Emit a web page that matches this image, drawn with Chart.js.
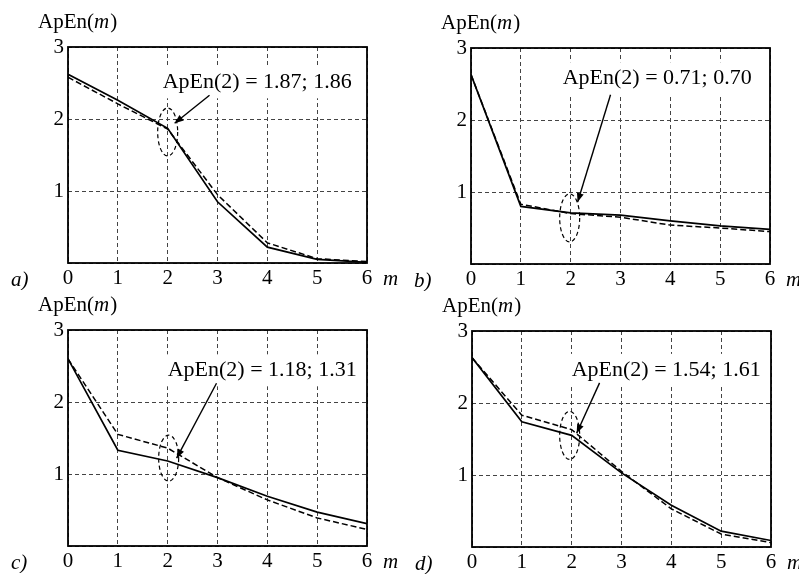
<!DOCTYPE html>
<html>
<head>
<meta charset="utf-8">
<script src="https://cdn.jsdelivr.net/npm/chart.js@4"></script>
<style>
  body { margin: 0; background: #fff; }
  .panel { position: absolute; width: 400px; height: 290px; }
</style>
</head>
<body>
<div class="panel" style="left:0px;top:0px"><canvas id="chartA" width="400" height="290"></canvas></div>
<div class="panel" style="left:403px;top:1px"><canvas id="chartB" width="400" height="290"></canvas></div>
<div class="panel" style="left:0px;top:283px"><canvas id="chartC" width="400" height="290"></canvas></div>
<div class="panel" style="left:404px;top:284px"><canvas id="chartD" width="400" height="290"></canvas></div>
<script>
var mValues = [0, 1, 2, 3, 4, 5, 6];

var apenA1 = [2.62, 2.26, 1.87, 0.85, 0.22, 0.05, 0.01];
var apenA2 = [2.58, 2.21, 1.86, 0.95, 0.28, 0.06, 0.02];
var apenB1 = [2.63, 0.80, 0.71, 0.68, 0.60, 0.53, 0.48];
var apenB2 = [2.63, 0.83, 0.70, 0.65, 0.54, 0.50, 0.45];
var apenC1 = [2.60, 1.33, 1.18, 0.95, 0.69, 0.47, 0.31];
var apenC2 = [2.60, 1.55, 1.36, 0.95, 0.64, 0.39, 0.23];
var apenD1 = [2.63, 1.74, 1.55, 1.03, 0.58, 0.22, 0.09];
var apenD2 = [2.63, 1.83, 1.63, 1.05, 0.53, 0.18, 0.06];

var panelLetters = ['a)', 'b)', 'c)', 'd)'];
var noteTexts = [
	'ApEn(2) = 1.87; 1.86',
	'ApEn(2) = 0.71; 0.70',
	'ApEn(2) = 1.18; 1.31',
	'ApEn(2) = 1.54; 1.61'
];

var serif = '"Liberation Serif", "Times New Roman", serif';

// where the callout sits, in data units of each panel
var notes = [
	{tx: 1.9, ty: 2.51, ax: 2.84, ay: 2.33, bx: 2.14, by: 1.94, ex: 2.0, ey: 1.82, ry: 24},
	{tx: 1.84, ty: 2.58, ax: 2.8, ay: 2.35, bx: 2.14, by: 0.86, ex: 1.98, ey: 0.64, ry: 24},
	{tx: 2.0, ty: 2.44, ax: 2.98, ay: 2.26, bx: 2.18, by: 1.22, ex: 2.02, ey: 1.22, ry: 23},
	{tx: 2.0, ty: 2.46, ax: 2.56, ay: 2.28, bx: 2.1, by: 1.58, ex: 1.96, ey: 1.55, ry: 24}
];

var panelPlugin = {
	id: 'panel',
	afterDraw: function(chart, args, opts) {
		var ctx = chart.ctx;
		var ca = chart.chartArea;
		var x = chart.scales.x, y = chart.scales.y;
		var n = opts.note;
		ctx.save();
		ctx.setLineDash([]);

		// callout text on a white patch, the grid stops around it
		ctx.font = '22px ' + serif;
		var px = x.getPixelForValue(n.tx), py = y.getPixelForValue(n.ty);
		var w = ctx.measureText(opts.text).width;
		ctx.fillStyle = '#fff';
		ctx.fillRect(px - 3, py - 16, w + 6, 32);
		ctx.fillStyle = '#000';
		ctx.textBaseline = 'middle';
		ctx.textAlign = 'left';
		ctx.fillText(opts.text, px, py);

		ctx.strokeStyle = '#000';
		ctx.lineWidth = 1.8;
		ctx.strokeRect(ca.left, ca.top, ca.width, ca.height);

		// axis title ApEn(m)
		ctx.textBaseline = 'alphabetic';
		var tx = 38;
		ctx.font = '21px ' + serif;
		ctx.fillText('ApEn(', tx, 28);
		tx += ctx.measureText('ApEn(').width;
		ctx.font = 'italic 21px ' + serif;
		ctx.fillText('m', tx, 28);
		tx += ctx.measureText('m').width + 1;
		ctx.font = '21px ' + serif;
		ctx.fillText(')', tx, 28);

		// panel letter and x axis name
		ctx.font = 'italic 21px ' + serif;
		ctx.fillText(opts.letter, 11, 286);
		ctx.fillText('m', ca.right + 16, 285);

		// dashed ellipse
		ctx.lineWidth = 1.2;
		ctx.setLineDash([4, 3]);
		ctx.beginPath();
		ctx.ellipse(x.getPixelForValue(n.ex), y.getPixelForValue(n.ey), 10, n.ry, 0, 0, 2 * Math.PI);
		ctx.stroke();

		// arrow
		var x1 = x.getPixelForValue(n.ax), y1 = y.getPixelForValue(n.ay);
		var x2 = x.getPixelForValue(n.bx), y2 = y.getPixelForValue(n.by);
		ctx.setLineDash([]);
		ctx.lineWidth = 1.4;
		ctx.beginPath();
		ctx.moveTo(x1, y1);
		ctx.lineTo(x2, y2);
		ctx.stroke();
		var ang = Math.atan2(y2 - y1, x2 - x1);
		ctx.beginPath();
		ctx.moveTo(x2, y2);
		ctx.lineTo(x2 - 9 * Math.cos(ang) + 3.5 * Math.sin(ang), y2 - 9 * Math.sin(ang) - 3.5 * Math.cos(ang));
		ctx.lineTo(x2 - 9 * Math.cos(ang) - 3.5 * Math.sin(ang), y2 - 9 * Math.sin(ang) + 3.5 * Math.cos(ang));
		ctx.closePath();
		ctx.fill();
		ctx.restore();
	}
};

function toPoints(vals) {
	return vals.map(function(v, i) { return {x: mValues[i], y: v}; });
}

function initChart(canvasId, solid, dashed, idx) {
	var ctx = document.getElementById(canvasId).getContext('2d');
	return new Chart(ctx, {
		type: 'line',
		data: {
			datasets: [{
				data: toPoints(solid),
				borderColor: '#000',
				borderWidth: 1.7,
				pointRadius: 0,
				tension: 0
			}, {
				data: toPoints(dashed),
				borderColor: '#000',
				borderWidth: 1.5,
				borderDash: [6, 3],
				pointRadius: 0,
				tension: 0
			}]
		},
		options: {
			responsive: false,
			animation: false,
			devicePixelRatio: 1,
			layout: {padding: {top: 47, right: 33, left: 0, bottom: 0}},
			plugins: {
				legend: {display: false},
				tooltip: {enabled: false},
				panel: {letter: panelLetters[idx], text: noteTexts[idx], note: notes[idx]}
			},
			scales: {
				x: {
					type: 'linear',
					min: 0,
					max: 6,
					afterFit: function(scale) { scale.height = 27; },
					ticks: {
						stepSize: 1,
						padding: 3,
						color: '#000',
						font: {family: serif, size: 21}
					},
					grid: {color: '#444', lineWidth: 1, drawTicks: false},
					border: {display: false, dash: [4, 3]}
				},
				y: {
					min: 0,
					max: 3,
					afterFit: function(scale) { scale.width = 68; },
					ticks: {
						stepSize: 1,
						padding: 4,
						color: '#000',
						font: {family: serif, size: 21},
						callback: function(v) { return v === 0 ? '' : v; }
					},
					grid: {color: '#444', lineWidth: 1, drawTicks: false},
					border: {display: false, dash: [4, 3]}
				}
			}
		},
		plugins: [panelPlugin]
	});
}

initChart('chartA', apenA1, apenA2, 0);
initChart('chartB', apenB1, apenB2, 1);
initChart('chartC', apenC1, apenC2, 2);
initChart('chartD', apenD1, apenD2, 3);
</script>
</body>
</html>
